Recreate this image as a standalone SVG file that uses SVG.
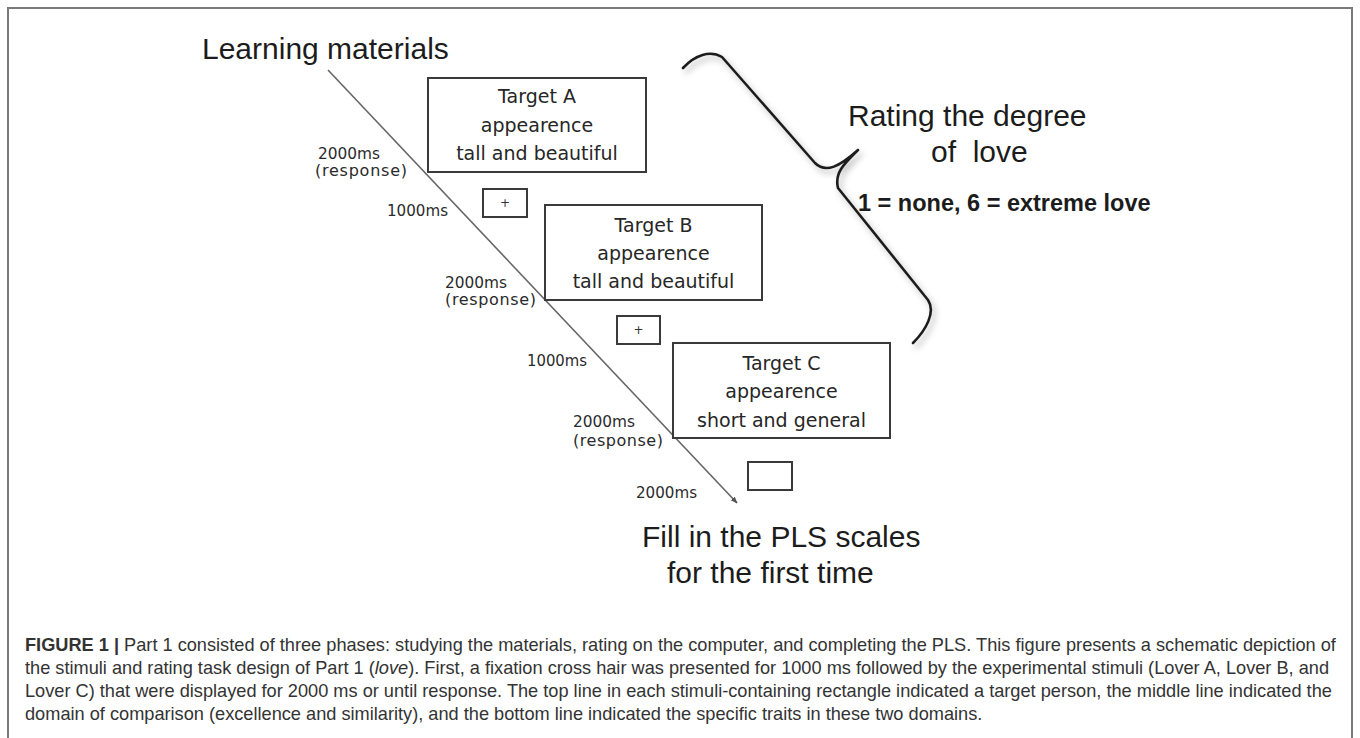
<svg xmlns="http://www.w3.org/2000/svg" width="1360" height="738" viewBox="0 0 1360 738">
<defs>
<style>
.frame{fill:none;stroke:#7a7a7a;stroke-width:2}
.box{fill:#fff;stroke:#3a3a3a;stroke-width:2}
.bt{font-family:"DejaVu Sans",sans-serif;font-size:19px;fill:#262626;text-anchor:middle}
.lab{font-family:"DejaVu Sans",sans-serif;font-size:16px;fill:#2a2a2a}
.plus{font-family:"DejaVu Sans",sans-serif;font-size:12px;fill:#333;text-anchor:middle}
.big{font-family:"Liberation Sans",Arial,sans-serif;font-size:30px;fill:#1c1c1c}
.bold{font-family:"Liberation Sans",Arial,sans-serif;font-size:23.5px;font-weight:bold;fill:#1c1c1c}
.cap{font-family:"Liberation Sans",Arial,sans-serif;font-size:18.2px;fill:#333}
.line{stroke:#666;stroke-width:1.6;fill:none}
.brace{stroke:#1e1e1e;stroke-width:2.6;fill:none;stroke-linecap:round;stroke-linejoin:round}
</style>
<marker id="arr" viewBox="0 0 10 10" refX="9" refY="5" markerWidth="7" markerHeight="7" orient="auto" markerUnits="userSpaceOnUse">
<path d="M0,1 L10,5 L0,9 z" fill="#555"/>
</marker>
<filter id="sh" x="-20%" y="-20%" width="140%" height="140%">
<feDropShadow dx="3" dy="4" stdDeviation="3" flood-color="#000" flood-opacity="0.3"/>
</filter>
</defs>
<rect x="0" y="0" width="1360" height="738" fill="#fff"/>
<rect class="frame" x="8" y="8" width="1344" height="740"/>

<g id="connectors">
<line class="line" x1="328" y1="70" x2="737" y2="503" marker-end="url(#arr)"/>
<path id="brace" class="brace" filter="url(#sh)" d="M683,68 C695,55 710,50 722,57 L815,163 C826,174 840,166 858,150 C846,162 834,172 838,188 L928,300 C936,312 926,330 913,343"/>
</g>

<g id="title">
<text class="big" x="202" y="59">Learning materials</text>
</g>

<g id="targetA">
<rect class="box" x="428" y="78" width="218" height="94"/>
<text class="bt" x="537" y="103">Target A</text>
<text class="bt" x="537" y="132">appearence</text>
<text class="bt" x="537" y="160">tall and beautiful</text>
</g>
<g id="fixA">
<rect class="box" x="483" y="189" width="44" height="28"/>
<text class="plus" x="505" y="207">+</text>
</g>
<g id="targetB">
<rect class="box" x="545" y="205" width="217" height="95"/>
<text class="bt" x="653.5" y="232">Target B</text>
<text class="bt" x="653.5" y="260">appearence</text>
<text class="bt" x="653.5" y="288">tall and beautiful</text>
</g>
<g id="fixB">
<rect class="box" x="617" y="316" width="43" height="28"/>
<text class="plus" x="638.5" y="334">+</text>
</g>
<g id="targetC">
<rect class="box" x="673" y="343" width="217" height="95"/>
<text class="bt" x="781.5" y="370">Target C</text>
<text class="bt" x="781.5" y="398">appearence</text>
<text class="bt" x="781.5" y="427">short and general</text>
</g>
<g id="blank">
<rect class="box" x="748" y="462" width="44" height="28"/>
</g>

<g id="timings">
<text class="lab" x="318" y="159" textLength="62" lengthAdjust="spacingAndGlyphs">2000ms</text>
<text class="lab" x="315" y="176" textLength="92" lengthAdjust="spacing">(response)</text>
<text class="lab" x="387" y="216" textLength="61" lengthAdjust="spacingAndGlyphs">1000ms</text>
<text class="lab" x="445" y="288" textLength="62" lengthAdjust="spacingAndGlyphs">2000ms</text>
<text class="lab" x="445" y="305" textLength="91" lengthAdjust="spacing">(response)</text>
<text class="lab" x="527" y="366" textLength="60" lengthAdjust="spacingAndGlyphs">1000ms</text>
<text class="lab" x="573" y="427" textLength="62" lengthAdjust="spacingAndGlyphs">2000ms</text>
<text class="lab" x="573" y="446" textLength="90" lengthAdjust="spacing">(response)</text>
<text class="lab" x="636" y="498" textLength="61" lengthAdjust="spacingAndGlyphs">2000ms</text>
</g>

<g id="rating">
<text class="big" x="848" y="126">Rating the degree</text>
<text class="big" x="931" y="162" style="white-space:pre">of  love</text>
<text class="bold" x="858" y="211">1 = none, 6 = extreme love</text>
</g>

<g id="fill">
<text class="big" x="642" y="547">Fill in the PLS scales</text>
<text class="big" x="667" y="583">for the first time</text>
</g>

<g id="caption">
<text class="cap" x="25" y="651"><tspan font-weight="bold">FIGURE 1 |</tspan> Part 1 consisted of three phases: studying the materials, rating on the computer, and completing the PLS. This figure presents a schematic depiction of</text>
<text class="cap" x="25" y="674">the stimuli and rating task design of Part 1 (<tspan font-style="italic">love</tspan>). First, a fixation cross hair was presented for 1000 ms followed by the experimental stimuli (Lover A, Lover B, and</text>
<text class="cap" x="25" y="697">Lover C) that were displayed for 2000 ms or until response. The top line in each stimuli-containing rectangle indicated a target person, the middle line indicated the</text>
<text class="cap" x="25" y="720">domain of comparison (excellence and similarity), and the bottom line indicated the specific traits in these two domains.</text>
</g>
</svg>
